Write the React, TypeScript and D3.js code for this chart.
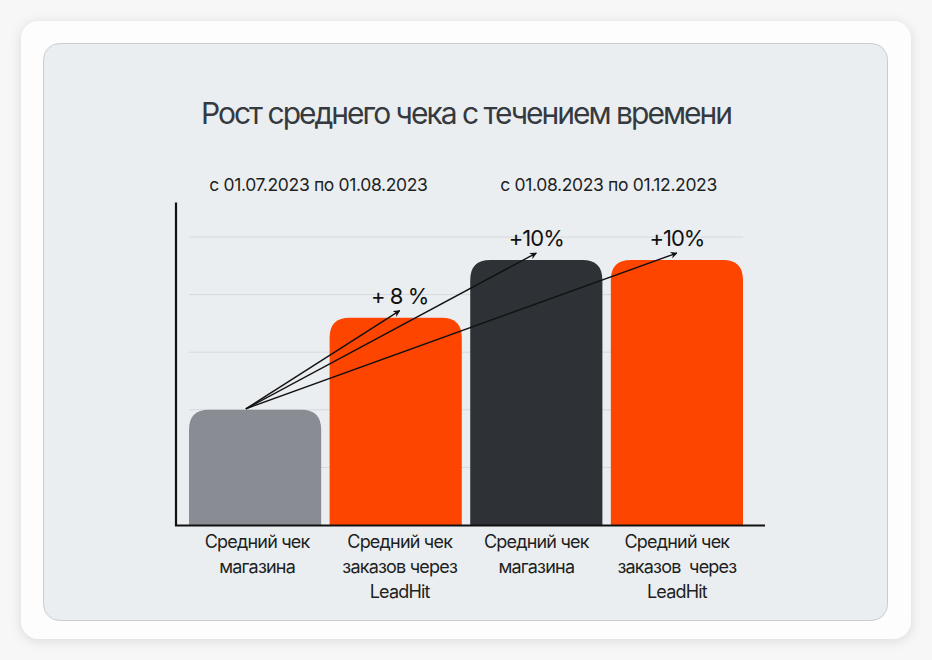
import React, { useRef, useEffect } from "react";
import * as d3 from "d3";

// bar data
const barLabels = [
  ["Средний чек", "магазина"],
  ["Средний чек", "заказов через", "LeadHit"],
  ["Средний чек", "магазина"],
  ["Средний чек", "заказов  через", "LeadHit"],
];
const barValues = [2.0, 3.6, 4.6, 4.6];
const barColors = ["#898c92", "#fe4500", "#2e3236", "#fe4500"];

// periods shown above the bars (pairs of bars)
const periodLabels = ["с 01.07.2023 по 01.08.2023", "с 01.08.2023 по 01.12.2023"];

// growth arrows from the first bar to the others
const growthTargets = [1, 2, 3];
const growthLabels = ["+ 8 %", "+10%", "+10%"];

const gridValues = [1, 2, 3, 4, 5];

const W = 932;
const H = 660;

const App = () => {
  const svgRef = useRef<SVGSVGElement>(null);

  useEffect(() => {
    document.body.style.margin = "0";
    document.body.style.background = "#f7f7f7";

    const svg = d3.select(svgRef.current).attr("width", W).attr("height", H);
    svg.selectAll("*").remove();

    const defs = svg.append("defs");
    const shadow = defs.append("filter").attr("id", "shadow")
      .attr("x", "-10%").attr("y", "-10%").attr("width", "120%").attr("height", "120%");
    shadow.append("feDropShadow")
      .attr("dx", 0).attr("dy", 2).attr("stdDeviation", 6)
      .attr("flood-color", "#000").attr("flood-opacity", 0.12);

    defs.append("marker")
      .attr("id", "head")
      .attr("viewBox", "0 0 10 10")
      .attr("refX", 9).attr("refY", 5)
      .attr("markerWidth", 7).attr("markerHeight", 7)
      .attr("markerUnits", "userSpaceOnUse")
      .attr("orient", "auto")
      .append("path")
      .attr("d", "M0,0 L10,5 L0,10 L3,5 Z")
      .attr("fill", "#111");

    // card + panel
    svg.append("rect")
      .attr("x", 21).attr("y", 21).attr("width", 890).attr("height", 618)
      .attr("rx", 18).attr("fill", "#fdfdfd").attr("filter", "url(#shadow)");
    svg.append("rect")
      .attr("x", 43.5).attr("y", 43.5).attr("width", 844).attr("height", 577)
      .attr("rx", 16).attr("fill", "#ebeef1").attr("stroke", "#c9cdd3").attr("stroke-width", 1);

    const font = "Inter, 'Noto Sans', sans-serif";

    svg.append("text")
      .attr("x", 466).attr("y", 124)
      .attr("text-anchor", "middle")
      .attr("font-family", font).attr("font-size", 30)
      .attr("letter-spacing", -2)
      .attr("fill", "#353a40")
      .text("Рост среднего чека с течением времени");

    const x = d3.scaleBand<number>()
      .domain(barValues.map((_, i) => i))
      .range([189, 743])
      .paddingInner(0.06)
      .paddingOuter(0);

    const y = d3.scaleLinear().domain([0, 5]).range([525, 237]);

    const g = svg.append("g");

    // gridlines
    g.selectAll(".grid")
      .data(gridValues)
      .enter()
      .append("line")
      .attr("x1", 189).attr("x2", 743)
      .attr("y1", (d) => y(d)).attr("y2", (d) => y(d))
      .attr("stroke", "#d5d8dc").attr("stroke-width", 1);

    // bars: rounded top, square bottom
    const r = 20;
    g.selectAll(".bar")
      .data(barValues)
      .enter()
      .append("path")
      .attr("d", (d, i) => {
        const x0 = x(i)!;
        const x1 = x0 + x.bandwidth();
        const top = y(d);
        const bot = y(0);
        return `M${x0},${bot} V${top + r} Q${x0},${top} ${x0 + r},${top} H${x1 - r} Q${x1},${top} ${x1},${top + r} V${bot} Z`;
      })
      .attr("fill", (_, i) => barColors[i]);

    // axes
    g.append("line")
      .attr("x1", 176).attr("x2", 176)
      .attr("y1", y(5.6)).attr("y2", y(0) + 1)
      .attr("stroke", "#111").attr("stroke-width", 2.2);
    g.append("line")
      .attr("x1", 175).attr("x2", 765)
      .attr("y1", y(0) + 0.5).attr("y2", y(0) + 0.5)
      .attr("stroke", "#111").attr("stroke-width", 2.2);

    // period labels, roughly centered over each pair of bars
    periodLabels.forEach((t, k) => {
      const cx = (x(k * 2)! + x(k * 2 + 1)! + x.bandwidth()) / 2 + (k === 0 ? -7 : 2);
      svg.append("text")
        .attr("x", cx).attr("y", 191)
        .attr("text-anchor", "middle")
        .attr("font-family", font).attr("font-size", 17.5)
        .attr("letter-spacing", -0.35)
        .attr("fill", "#1d1f22")
        .text(t);
    });

    // category labels
    barLabels.forEach((lines, i) => {
      const cx = x(i)! + x.bandwidth() / 2 + (i === 1 ? 4 : i === 0 ? 2 : 0);
      const t = svg.append("text")
        .attr("text-anchor", "middle")
        .attr("font-family", font).attr("font-size", 18)
        .attr("letter-spacing", -0.8)
        .attr("fill", "#1d1f22");
      lines.forEach((ln, j) => {
        t.append("tspan").attr("x", cx).attr("y", 548 + j * 25).attr("xml:space", "preserve").text(ln);
      });
    });

    // growth arrows
    const sx = x(0)! + x.bandwidth() * 0.43;
    const sy = y(barValues[0]) - 1;
    growthTargets.forEach((ti, k) => {
      const ex = x(ti)! + x.bandwidth() / 2 + (k === 0 ? 4 : 0);
      const ey = y(barValues[ti]) - 7;
      g.append("line")
        .attr("x1", sx).attr("y1", sy)
        .attr("x2", ex).attr("y2", ey)
        .attr("stroke", "#111").attr("stroke-width", 1.4)
        .attr("marker-end", "url(#head)");
      g.append("text")
        .attr("x", ex).attr("y", ey - 7)
        .attr("text-anchor", "middle")
        .attr("font-family", font).attr("font-size", 22)
        .attr("letter-spacing", -1)
        .attr("fill", "#111")
        .attr("xml:space", "preserve")
        .text(growthLabels[k]);
    });
  }, []);

  return (
    <div style={{ position: "absolute", left: 0, top: 0 }}>
      <svg ref={svgRef}></svg>
    </div>
  );
};

export default App;
